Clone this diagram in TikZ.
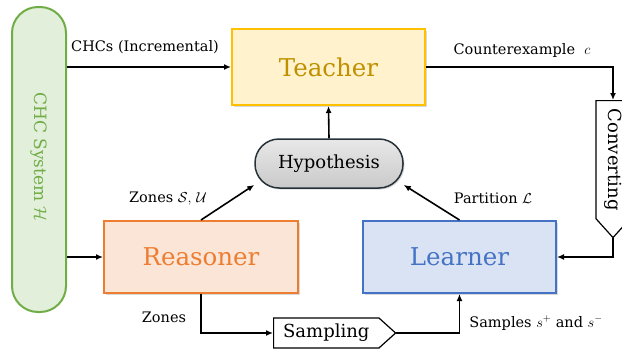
\documentclass[tikz,border=0pt]{standalone}
\usepackage{fontspec}
\setmainfont{DejaVu Serif}
\usetikzlibrary{arrows.meta,shapes.symbols,shadows}
\definecolor{tfill}{HTML}{FFF2CC}
\definecolor{tline}{HTML}{FFC000}
\definecolor{ttext}{HTML}{BF9000}
\definecolor{rfill}{HTML}{FBE5D6}
\definecolor{rline}{HTML}{ED7D31}
\definecolor{lfill}{HTML}{DAE3F3}
\definecolor{lline}{HTML}{4472C4}
\definecolor{cfill}{HTML}{E2EFDA}
\definecolor{cline}{HTML}{70AD47}
\definecolor{hline}{HTML}{263238}
\begin{document}
\begin{tikzpicture}[x=1pt,y=-1pt,
  shad/.style={drop shadow={shadow xshift=1.5pt,shadow yshift=-1.5pt,opacity=0.3}},
  bigbox/.style={draw,line width=2pt,inner sep=0pt,font=\fontsize{24.5}{26}\selectfont,shad},
  proc/.style={draw,line width=1.2pt,signal,signal pointer angle=84,inner sep=0pt,font=\fontsize{18}{20}\selectfont,fill=white},
  conn/.style={line width=1.6pt,-{Latex[length=7pt,width=6pt]}},
  lab/.style={font=\fontsize{14.5}{16}\selectfont,inner sep=0pt}
]
\useasboundingbox (0,0) rectangle (622,351);

\node[draw=cline,fill=cfill,line width=2pt,rounded corners=26pt,minimum width=54pt,minimum height=305pt,inner sep=0pt] (chc) at (39,159.5) {};
\node[rotate=-90,text=cline,font=\fontsize{17}{19}\selectfont] at (39,157) {CHC System $\mathcal{H}$};

\node[bigbox,draw=tline,fill=tfill,text=ttext,minimum width=193pt,minimum height=76pt] (teacher) at (328.5,67) {Teacher};
\node[bigbox,draw=rline,fill=rfill,text=rline,minimum width=194pt,minimum height=72pt] (reasoner) at (201,257) {Reasoner};
\node[bigbox,draw=lline,fill=lfill,text=lline,minimum width=193pt,minimum height=72pt] (learner) at (459.5,257) {Learner};
\node[draw=hline,line width=1.5pt,rounded corners=24pt,top color=gray!18,bottom color=gray!42,minimum width=148pt,minimum height=49pt,inner sep=0pt,font=\fontsize{18}{20}\selectfont,shad] (hyp) at (329,163.5) {Hypothesis};

\node[proc,signal to=east,minimum width=122pt,minimum height=30pt,anchor=west] (samp) at (273,333) {Sampling};
\node[proc,signal to=east,rotate=-90,minimum width=137pt,minimum height=34pt,anchor=west] (conv) at (613,100) {Converting};

\draw[conn] (chc.east |- teacher.west) -- (teacher.west);
\draw[conn] (chc.east |- reasoner.west) -- (reasoner.west);
\draw[conn] (hyp.north) -- (teacher.south);
\draw[conn] (reasoner.north) -- (hyp.196);
\draw[conn] (learner.north) -- (hyp.-16);
\draw[conn] (teacher.east) -| (conv.west);
\draw[conn] (conv.east) |- (learner.east);
\draw[conn] (reasoner.south) |- (samp.west);
\draw[conn] (samp.east) -| (learner.south);

\node[lab] at (145,47) {CHCs (Incremental)};
\node[lab] at (522,50) {Counterexample\ \ $c$};
\node[lab] at (168,199) {Zones $\mathcal{S},\,\mathcal{U}$};
\node[lab] at (493,198) {Partition $\mathcal{L}$};
\node[lab] at (164,317) {Zones};
\node[lab] at (536,323) {Samples $s^{+}$ and $s^{-}$};
\end{tikzpicture}
\end{document}
